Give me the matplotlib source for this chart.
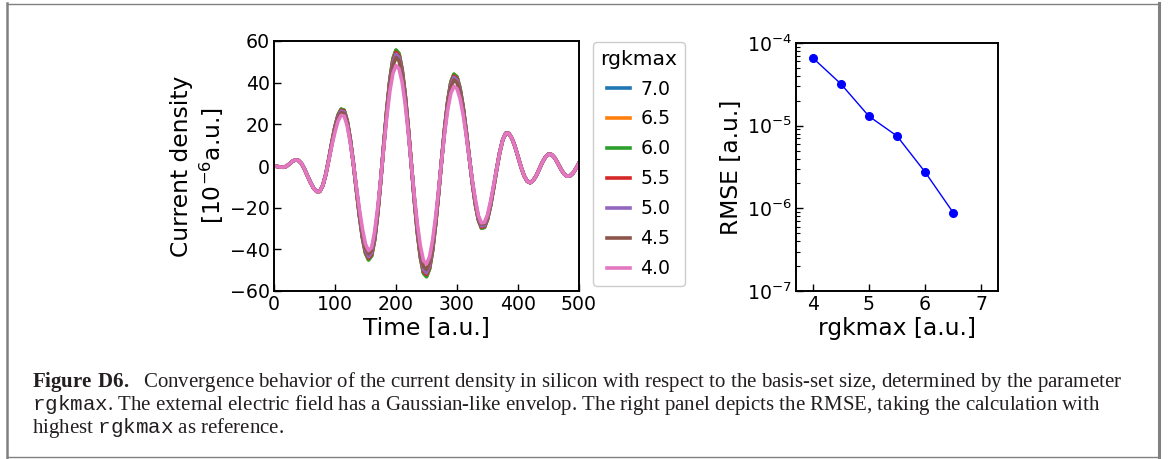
import numpy as np
import matplotlib
matplotlib.use('Agg')
import matplotlib.pyplot as plt
from matplotlib.lines import Line2D

plt.rcParams['mathtext.fontset'] = 'custom'
plt.rcParams['mathtext.rm']      = 'Liberation Serif'
plt.rcParams['mathtext.bf']      = 'Liberation Serif:bold'
plt.rcParams['mathtext.tt']      = 'Liberation Mono'

###Current density data (10^-6 a.u.), sampled every 5 a.u.###
time = np.arange(0, 501, 5)

# t = 0 ... 85, common to all runs
head = [0.0, -0.2, -0.5, -0.6, -0.2, 0.9, 2.2, 2.9, 2.7, 1.2, -1.5, -4.8,
        -8.0, -10.7, -12.2, -12.2, -9.4, -3.9]
# t = 370 ... 500, common to all runs
tail = [6.5, 12.6, 15.7, 15.6, 13.3, 9.4, 4.5, -0.5, -4.7, -7.3, -8.0, -6.9,
        -4.6, -1.4, 1.8, 4.3, 5.7, 5.5, 4.0, 1.5, -1.3, -3.6, -4.9, -4.8,
        -3.5, -1.2, 1.4]

# t = 90 ... 365 for each rgkmax
mid_70 = [3.5, 11.5, 18.9, 24.4, 27.2, 26.7, 21.7, 12.9, 1.5, -11.3, -23.8, -34.4,
          -41.7, -44.9, -43.0, -35.4, -22.9, -6.9, 10.5, 27.3, 41.4, 51.2, 55.4, 53.7,
          46.3, 34.3, 18.7, 1.3, -16.2, -31.8, -43.8, -51.2, -52.9, -49.2, -40.5, -27.8,
          -12.6, 3.6, 18.8, 31.5, 40.2, 43.9, 42.6, 37.2, 28.4, 17.0, 4.5, -7.7,
          -18.2, -25.8, -29.7, -29.4, -25.6, -19.0, -10.6, -1.6]
mid_65 = [3.5, 11.5, 18.9, 24.4, 27.2, 26.7, 21.7, 12.9, 1.5, -11.3, -23.8, -34.4,
          -41.8, -45.0, -43.1, -35.4, -22.9, -6.9, 10.5, 27.3, 41.5, 51.3, 55.5, 53.8,
          46.3, 34.3, 18.7, 1.3, -16.2, -31.9, -43.9, -51.3, -53.0, -49.3, -40.5, -27.8,
          -12.6, 3.6, 18.8, 31.6, 40.3, 44.0, 42.7, 37.2, 28.4, 17.0, 4.5, -7.7,
          -18.2, -25.8, -29.7, -29.4, -25.6, -19.0, -10.6, -1.6]
mid_60 = [3.5, 11.6, 19.0, 24.5, 27.3, 26.8, 21.8, 13.0, 1.5, -11.4, -23.9, -34.6,
          -41.9, -45.1, -43.2, -35.6, -23.0, -6.9, 10.6, 27.4, 41.6, 51.5, 55.7, 54.0,
          46.5, 34.5, 18.8, 1.3, -16.3, -32.0, -44.0, -51.5, -53.2, -49.4, -40.7, -27.9,
          -12.7, 3.6, 18.9, 31.7, 40.4, 44.1, 42.8, 37.4, 28.5, 17.1, 4.5, -7.7,
          -18.3, -25.9, -29.8, -29.5, -25.7, -19.1, -10.7, -1.6]
mid_55 = [3.4, 11.3, 18.6, 24.0, 26.8, 26.3, 21.4, 12.7, 1.5, -11.1, -23.4, -33.9,
          -41.1, -44.2, -42.4, -34.9, -22.6, -6.8, 10.3, 26.9, 40.8, 50.4, 54.6, 52.9,
          45.6, 33.8, 18.4, 1.3, -16.0, -31.3, -43.1, -50.4, -52.1, -48.5, -39.9, -27.4,
          -12.4, 3.5, 18.5, 31.0, 39.6, 43.2, 42.0, 36.6, 28.0, 16.7, 4.4, -7.6,
          -17.9, -25.4, -29.3, -29.0, -25.2, -18.7, -10.4, -1.6]
mid_50 = [3.4, 11.2, 18.3, 23.7, 26.4, 25.9, 21.0, 12.5, 1.5, -11.0, -23.1, -33.4,
          -40.4, -43.6, -41.7, -34.3, -22.2, -6.7, 10.2, 26.5, 40.2, 49.7, 53.7, 52.1,
          44.9, 33.3, 18.1, 1.3, -15.7, -30.8, -42.5, -49.7, -51.3, -47.7, -39.3, -27.0,
          -12.2, 3.5, 18.2, 30.6, 39.0, 42.6, 41.3, 36.1, 27.5, 16.5, 4.4, -7.5,
          -17.7, -25.0, -28.8, -28.5, -24.8, -18.4, -10.3, -1.6]
mid_45 = [3.3, 10.8, 17.8, 22.9, 25.6, 25.1, 20.4, 12.1, 1.4, -10.6, -22.4, -32.3,
          -39.2, -42.2, -40.4, -33.3, -21.5, -6.5, 9.9, 25.7, 38.9, 48.1, 52.1, 50.5,
          43.5, 32.2, 17.6, 1.2, -15.2, -29.9, -41.2, -48.1, -49.7, -46.2, -38.1, -26.1,
          -11.8, 3.4, 17.7, 29.6, 37.8, 41.3, 40.0, 35.0, 26.7, 16.0, 4.2, -7.2,
          -17.1, -24.3, -27.9, -27.6, -24.1, -17.9, -10.0, -1.5]
mid_40 = [3.0, 10.0, 16.4, 21.6, 24.3, 24.0, 19.3, 11.2, 1.3, -9.8, -20.7, -30.2,
          -37.5, -40.6, -39.2, -31.5, -19.9, -6.0, 9.1, 23.8, 36.0, 44.5, 48.2, 46.7,
          40.3, 29.8, 16.3, 1.1, -14.1, -27.7, -38.4, -45.4, -47.0, -43.6, -35.6, -24.2,
          -11.0, 3.1, 16.4, 27.4, 35.0, 38.2, 37.1, 32.4, 24.7, 14.8, 3.9, -6.7,
          -15.8, -23.8, -27.3, -27.0, -23.5, -17.0, -9.2, -1.4]

labels  = ['7.0', '6.5', '6.0', '5.5', '5.0', '4.5', '4.0']
current = [head + m + tail for m in (mid_70, mid_65, mid_60, mid_55, mid_50, mid_45, mid_40)]

###RMSE relative to highest rgkmax###
rgkmax = [4.0, 4.5, 5.0, 5.5, 6.0, 6.5]
rmse   = [6.6e-5, 3.2e-5, 1.3e-5, 7.5e-6, 2.75e-6, 8.9e-7]

###Caption###
caption = [
    r'$\mathbf{Figure\ D6.}$  Convergence behavior of the current density in silicon with respect to the basis-set size, determined by the parameter',
    r'$\mathtt{rgkmax}$. The external electric field has a Gaussian-like envelop. The right panel depicts the RMSE, taking the calculation with',
    r'highest $\mathtt{rgkmax}$ as reference.',
]

###Plot###
W, H = 1174, 459
fig = plt.figure(figsize=(W / 100, H / 100), dpi=100)

tick_fs  = 13.6
label_fs = 16.8

ax1 = fig.add_axes([274 / W, 1 - 291 / H, 305 / W, 250 / H])
for j, lab in zip(current, labels):
    ax1.plot(time, j, linewidth=2.6, label=lab)
ax1.set_xlim(0, 500)
ax1.set_ylim(-60, 60)
ax1.set_xticks([0, 100, 200, 300, 400, 500])
ax1.set_yticks([-60, -40, -20, 0, 20, 40, 60])
ax1.set_xlabel('Time [a.u.]', fontsize=label_fs, labelpad=2)
ax1.set_ylabel('Current density\n[10$^{\\mathdefault{-6}}$a.u.]', fontsize=label_fs, labelpad=3)

leg = ax1.legend(title='rgkmax', fontsize=tick_fs, title_fontsize=14.6,
                 loc='upper left', bbox_to_anchor=(593 / W, 1 - 42 / H),
                 bbox_transform=fig.transFigure, borderaxespad=0,
                 handlelength=1.2, handletextpad=0.55, labelspacing=0.58,
                 borderpad=0.4, framealpha=1)

ax2 = fig.add_axes([796 / W, 1 - 291 / H, 202 / W, 248 / H])
ax2.plot(rgkmax, rmse, color='blue', marker='o', markersize=5.5, linewidth=1)
ax2.set_yscale('log')
ax2.set_ylim(1e-7, 1e-4)
ax2.set_xlim(3.7, 7.3)
ax2.set_xticks([4, 5, 6, 7])
ax2.set_xlabel('rgkmax [a.u.]', fontsize=label_fs, labelpad=2)
ax2.set_ylabel('RMSE [a.u.]', fontsize=label_fs, labelpad=3)

for ax in (ax1, ax2):
    ax.tick_params(which='major', direction='in', length=5, width=1,
                   labelsize=tick_fs, pad=3)
    ax.tick_params(which='minor', direction='in', length=3, width=0.8)
    for s in ax.spines.values():
        s.set_linewidth(1.4)

# caption text and frame
for k, line in enumerate(caption):
    fig.text(32 / W, 1 - (387 + 23 * k) / H, line, family='Liberation Serif',
             fontsize=15.0, color='#231f20', va='baseline', ha='left')

frame = '#808080'
fig.add_artist(Line2D([7 / W, 1159 / W], [1 - 3.5 / H, 1 - 3.5 / H], color=frame, lw=1.0))
fig.add_artist(Line2D([7 / W, 1159 / W], [1 - 457 / H, 1 - 457 / H], color=frame, lw=1.0))
fig.add_artist(Line2D([7 / W, 7 / W], [1 - 3 / H, 1 - 457.5 / H], color=frame, lw=1.8))
fig.add_artist(Line2D([1159 / W, 1159 / W], [1 - 3 / H, 1 - 457.5 / H], color=frame, lw=2.2))

fig.savefig('out.png', dpi=100)
